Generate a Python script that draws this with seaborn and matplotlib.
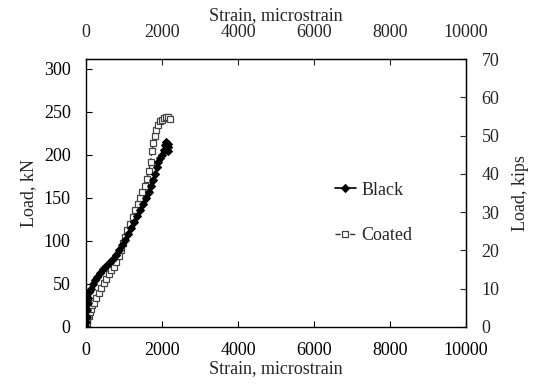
import numpy as np
import seaborn as sns
import matplotlib.pyplot as plt

# strain (microstrain) and load (kN)
black_strain = [0, 10, 20, 30, 45, 60, 90, 124, 180, 240, 300, 380, 460, 540, 620, 700, 780,
                860, 940, 1020, 1100, 1180, 1260, 1340, 1420, 1500, 1580, 1650, 1710, 1770,
                1820, 1860, 1900, 1950, 2000, 2050, 2080, 2110, 2150, 2170, 2150]
black_load = [0, 6, 12, 20, 28, 34, 40, 44, 50, 55, 58, 63, 67, 71, 75, 79, 84,
              89, 95, 101, 108, 115, 122, 129, 136, 143, 150, 157, 164, 171,
              178, 186, 192, 196, 200, 206, 211, 215, 213, 209, 205]

coated_strain = [0, 20, 40, 70, 100, 130, 170, 210, 270, 330, 400, 474, 540, 600, 670, 737,
                 800, 860, 920, 980, 1030, 1090, 1160, 1230, 1300, 1370, 1420, 1480, 1540,
                 1600, 1650, 1700, 1740, 1770, 1810, 1850, 1900, 1950, 2000, 2050, 2100,
                 2150, 2200]
coated_load = [0, 4, 8, 13, 17, 21, 25, 28, 34, 39, 45, 51, 56, 61, 66, 70,
               76, 82, 89, 97, 105, 113, 120, 128, 136, 143, 150, 157, 164,
               172, 181, 192, 205, 214, 222, 229, 235, 239, 241, 243, 244,
               244, 242]

KN_PER_KIP = 4.448

sns.set_style("ticks")
plt.rcParams['font.family'] = ['Liberation Serif', 'DejaVu Serif']
plt.rcParams['font.size'] = 13

fig = plt.figure(figsize=(5.44, 3.91), dpi=100)
ax = fig.add_axes([0.158, 0.164, 0.699, 0.685])

sns.lineplot(x=coated_strain, y=coated_load, ax=ax, sort=False, estimator=None,
             color='#333333', lw=1, linestyle='--', marker='s', markersize=5,
             markerfacecolor='white', markeredgecolor='#444444', markeredgewidth=0.9,
             label='Coated')
sns.lineplot(x=black_strain, y=black_load, ax=ax, sort=False, estimator=None,
             color='black', lw=1.2, marker='D', markersize=4.5, markeredgecolor='black',
             label='Black')

ax.set_xlim(0, 10000)
ax.set_ylim(0, 70 * KN_PER_KIP)
ax.set_xticks(np.arange(0, 10001, 2000))
ax.set_yticks(np.arange(0, 301, 50))
ax.set_xlabel('Strain, microstrain', labelpad=1)
ax.set_ylabel('Load, kN', labelpad=5)
ax.tick_params(direction='in', length=4, width=0.8, pad=11, colors='black')
for s in ax.spines.values():
    s.set_linewidth(1)
    s.set_color('black')

top = ax.secondary_xaxis('top')
top.set_xticks(np.arange(0, 10001, 2000))
top.set_xlabel('Strain, microstrain', labelpad=3)
top.tick_params(direction='in', length=4, width=0.8, pad=13)

right = ax.secondary_yaxis('right', functions=(lambda v: v / KN_PER_KIP, lambda v: v * KN_PER_KIP))
right.set_yticks(np.arange(0, 71, 10))
right.set_ylabel('Load, kips', labelpad=9)
right.tick_params(direction='in', length=4, width=0.8, pad=11)

handles, labels = ax.get_legend_handles_labels()
order = [labels.index('Black'), labels.index('Coated')]
ax.legend([handles[i] for i in order], [labels[i] for i in order],
          loc='center left', bbox_to_anchor=(0.63, 0.425), frameon=False,
          handlelength=1.2, handletextpad=0.3, labelspacing=1.6, borderpad=0)

fig.savefig('out.png', dpi=100)
